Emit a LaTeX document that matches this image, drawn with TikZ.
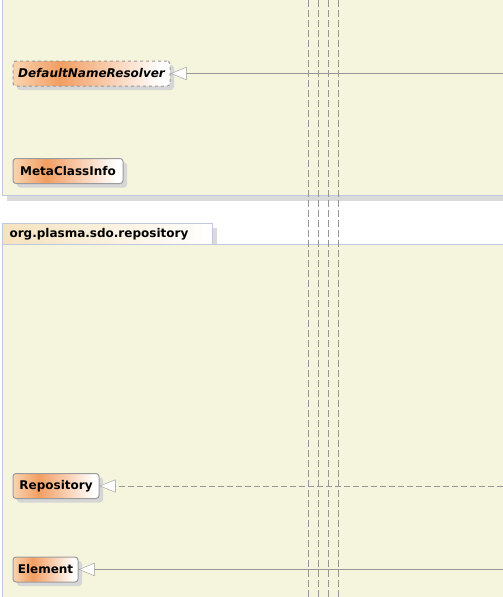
\documentclass[tikz,border=0pt]{standalone}
\usepackage{fontspec}
\setsansfont{DejaVu Sans}
\usetikzlibrary{positioning, arrows.meta, shadows}

\definecolor{pkgfill}{RGB}{245,244,220}
\definecolor{pkgline}{RGB}{192,200,222}
\definecolor{pkgshade}{RGB}{218,218,218}
\definecolor{tabtan}{RGB}{245,226,190}
\definecolor{connline}{RGB}{150,150,150}
\definecolor{classedge}{RGB}{155,155,155}
\definecolor{classlight}{RGB}{250,212,176}
\definecolor{classdark}{RGB}{242,158,98}
\pgfdeclarehorizontalshading{classshade}{100bp}{color(0bp)=(classlight); color(25bp)=(classlight); color(40bp)=(classdark); color(72bp)=(white); color(100bp)=(white)}

\tikzset{
x=1pt, y=-1pt, % pixel-like units, y runs downwards
class/.style={draw=classedge, line width=1pt, rounded corners=3pt, shading=classshade, font=\sffamily\bfseries\fontsize{12}{14}\selectfont, text=black, inner sep=0pt, minimum height=25pt, drop shadow={shadow xshift=4pt, shadow yshift=-4pt, fill=black!16, opacity=1}},
abstract/.style={class, dashed, font=\sffamily\bfseries\itshape\fontsize{12}{14}\selectfont},
realize/.style={draw=connline, dash pattern=on 6pt off 3pt, -{Triangle[open, length=16pt, width=13pt, fill=white]}}, % dashed generalization
extend/.style={draw=connline, -{Triangle[open, length=16pt, width=13pt, fill=white]}}, % solid generalization
lifeline/.style={draw=connline, line width=1pt, dash pattern=on 7pt off 3pt},
}

\begin{document}
\begin{tikzpicture}
\useasboundingbox (0,0) rectangle (503,597);
\fill[white] (0,0) rectangle (503,597);

% upper package
\fill[pkgshade] (7,196) rectangle (503,201);
\fill[pkgfill] (2.5,0) rectangle (503,195.5);
\draw[pkgline] (2.5,0) -- (2.5,195.5) -- (503,195.5);

% lower package with its tab
\fill[pkgshade] (212,228) rectangle (217,244);
\shade[left color=tabtan, right color=white] (2.5,223.5) rectangle (212,244);
\draw[pkgline] (2.5,244) -- (2.5,223.5) -- (212,223.5) -- (212,244);
\node[font=\sffamily\bfseries\fontsize{12}{14}\selectfont, anchor=west] (pkgname) at (6,234) {org.plasma.sdo.repository};
\fill[pkgfill] (2.5,244) rectangle (503,597);
\draw[pkgline] (2.5,597) -- (2.5,244) -- (503,244);

% lifelines
\foreach \x in {308.5,318.5,328.5,338.5}
    \draw[lifeline] (\x,0) -- (\x,597);

% classes
\node[abstract, minimum width=157pt] (resolver) at (91.5,73.5) {DefaultNameResolver};
\node[class, minimum width=110pt] (metainfo) at (68,171) {MetaClassInfo};
\node[class, minimum width=86pt] (repository) at (56,486) {Repository};
\node[class, minimum width=65pt] (element) at (45.5,569.5) {Element};

% connectors coming in from the right
\coordinate (resolverEnd) at (503,73.5);
\coordinate (repositoryEnd) at (503,486);
\coordinate (elementEnd) at (503,569.5);

\draw[extend] (resolverEnd) -- (resolver);
\draw[realize] (repositoryEnd) -- (repository);
\draw[extend] (elementEnd) -- (element);
\end{tikzpicture}
\end{document}
